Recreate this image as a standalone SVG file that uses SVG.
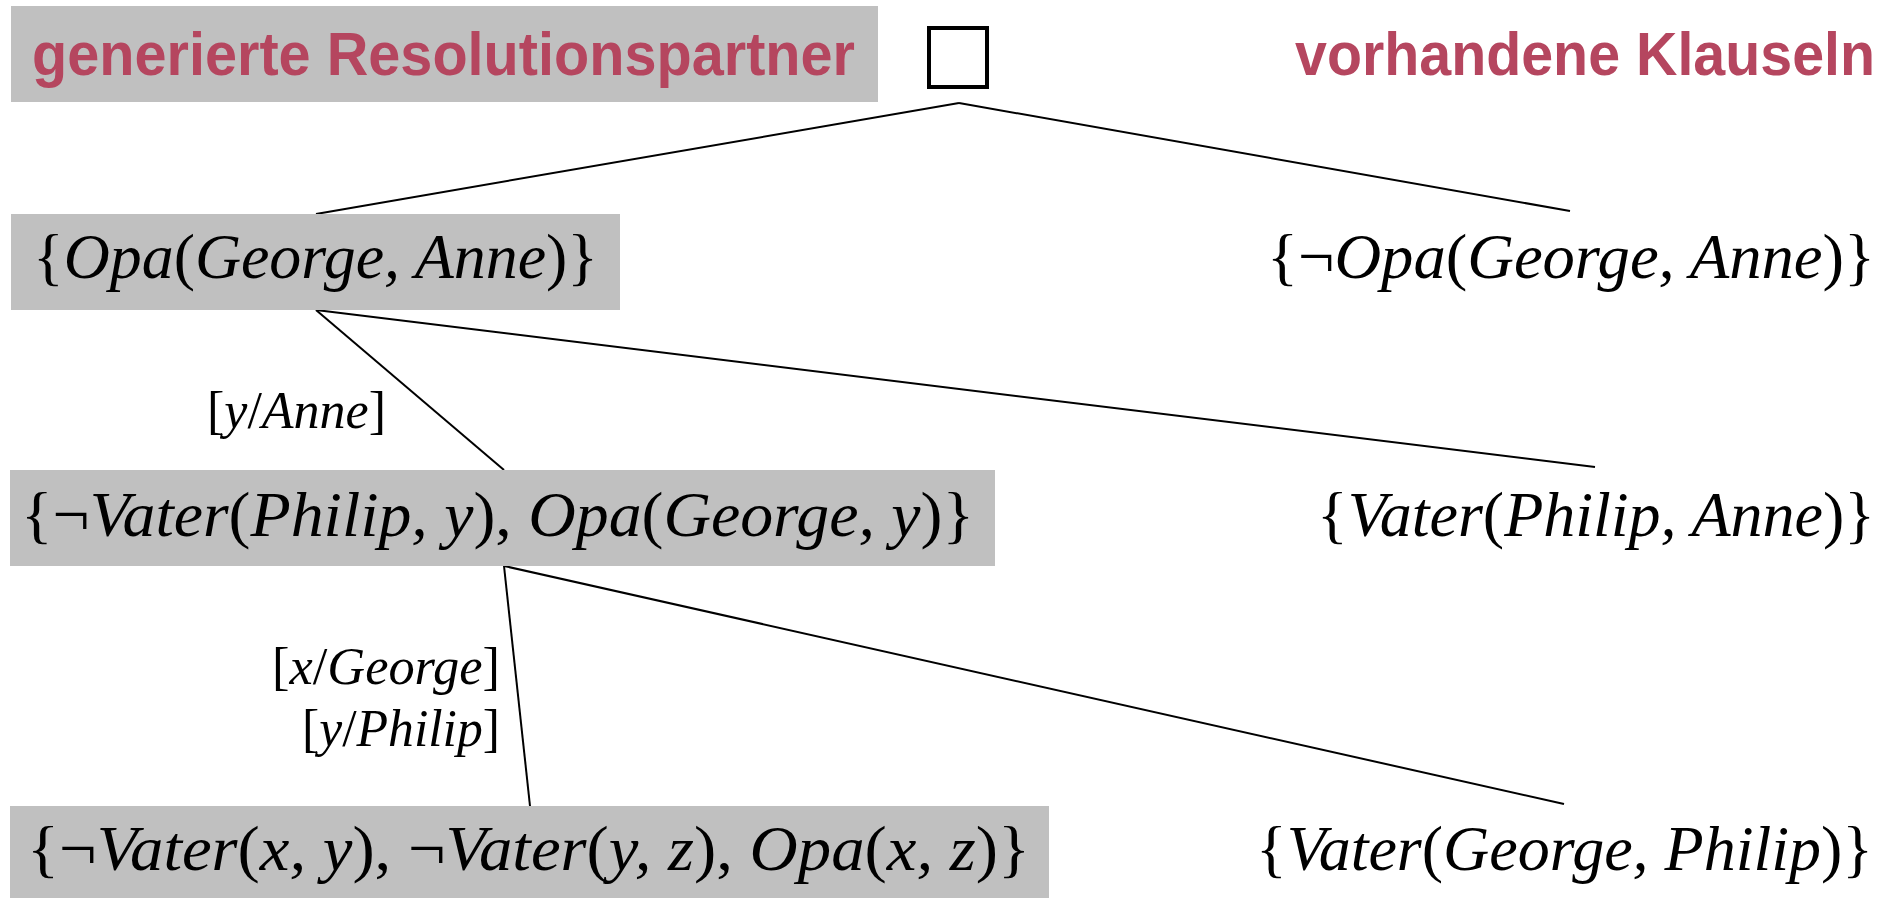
<svg xmlns="http://www.w3.org/2000/svg" width="1898" height="898" viewBox="0 0 1898 898">
<style>
.box{fill:#c0c0c0}
.title{font-family:"Liberation Sans",Arial,sans-serif;font-weight:bold;font-size:61px;fill:#b5465f}
.f{font-family:"Liberation Serif","Tinos","Noto Serif","DejaVu Serif",serif;font-size:64px;fill:#000}
.lab{font-family:"Liberation Serif","Tinos","Noto Serif","DejaVu Serif",serif;font-size:52px;fill:#000}
.i{font-style:italic}
.edge{stroke:#000;stroke-width:2;fill:none}
</style>
<rect width="1898" height="898" fill="#fff"/>
<g id="connectors">
<line class="edge" x1="959" y1="103" x2="316" y2="214"/>
<line class="edge" x1="959" y1="103" x2="1570" y2="211"/>
<line class="edge" x1="316" y1="310" x2="504" y2="470"/>
<line class="edge" x1="316" y1="310" x2="1595" y2="467"/>
<line class="edge" x1="504" y1="566" x2="530" y2="806"/>
<line class="edge" x1="504" y1="566" x2="1564" y2="804"/>
</g>
<g id="header-left">
<rect class="box" x="11" y="6" width="867" height="96"/>
<text class="title" x="32" y="75" textLength="823" lengthAdjust="spacingAndGlyphs">generierte Resolutionspartner</text>
</g>
<g id="empty-clause">
<rect x="929" y="28" width="58" height="59" fill="none" stroke="#000" stroke-width="4"/>
</g>
<g id="header-right">
<text class="title" style="font-size:57px" transform="translate(1295,75) scale(1,1.07)" x="0" y="0" textLength="580" lengthAdjust="spacingAndGlyphs">vorhandene Klauseln</text>
</g>
<g id="node-opa">
<rect class="box" x="11" y="214" width="609" height="96"/>
<text class="f" x="33" y="278" textLength="565" lengthAdjust="spacingAndGlyphs">{<tspan class="i">Opa</tspan>(<tspan class="i">George, Anne</tspan>)}</text>
</g>
<g id="clause-neg-opa">
<text class="f" x="1267" y="278" textLength="608" lengthAdjust="spacingAndGlyphs">{¬<tspan class="i">Opa</tspan>(<tspan class="i">George, Anne</tspan>)}</text>
</g>
<g id="node-vater-opa">
<rect class="box" x="10" y="470" width="985" height="96"/>
<text class="f" x="21" y="536" textLength="953" lengthAdjust="spacingAndGlyphs">{¬<tspan class="i">Vater</tspan>(<tspan class="i">Philip, y</tspan>), <tspan class="i">Opa</tspan>(<tspan class="i">George, y</tspan>)}</text>
</g>
<g id="clause-vater-anne">
<text class="f" x="1317" y="536" textLength="558" lengthAdjust="spacingAndGlyphs">{<tspan class="i">Vater</tspan>(<tspan class="i">Philip, Anne</tspan>)}</text>
</g>
<g id="node-rule">
<rect class="box" x="10" y="806" width="1039" height="92"/>
<text class="f" x="27" y="870" textLength="1003" lengthAdjust="spacingAndGlyphs">{¬<tspan class="i">Vater</tspan>(<tspan class="i">x, y</tspan>), ¬<tspan class="i">Vater</tspan>(<tspan class="i">y, z</tspan>), <tspan class="i">Opa</tspan>(<tspan class="i">x, z</tspan>)}</text>
</g>
<g id="clause-vater-george">
<text class="f" x="1256" y="870" textLength="617" lengthAdjust="spacingAndGlyphs">{<tspan class="i">Vater</tspan>(<tspan class="i">George, Philip</tspan>)}</text>
</g>
<g id="labels">
<text class="lab" x="207" y="428" textLength="179" lengthAdjust="spacingAndGlyphs">[<tspan class="i">y</tspan>/<tspan class="i">Anne</tspan>]</text>
<text class="lab" x="272" y="684" textLength="228" lengthAdjust="spacingAndGlyphs">[<tspan class="i">x</tspan>/<tspan class="i">George</tspan>]</text>
<text class="lab" x="302" y="746" textLength="198" lengthAdjust="spacingAndGlyphs">[<tspan class="i">y</tspan>/<tspan class="i">Philip</tspan>]</text>
</g>
</svg>
